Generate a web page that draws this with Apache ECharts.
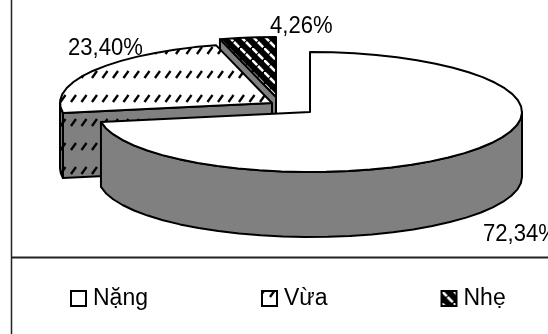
<!DOCTYPE html>
<html lang="vi">
<head>
    <meta charset="UTF-8">
    <title>pie 3d</title>
    <script src="https://cdn.jsdelivr.net/npm/echarts@6/dist/echarts.min.js"></script>
    <style>
        html, body { margin: 0; padding: 0; background: #fff; }
    </style>
</head>
<body>
<div id="main" style="width: 548px;height:334px;"></div>
<script type="text/javascript">
    // data
    var categories = ['Nặng', 'Vừa', 'Nhẹ'];
    var percents = [72.34, 23.40, 4.26];

    // ellipse of the fake 3d pie
    var RX = 212, RY = 60, DEPTH = 65;
    var centers = [[310, 112], [272, 103], [276, 97]];
    // left end and baseline of the value labels
    var labelPos = [[483, 241], [68, 55], [270, 33]];
    var GRAY = '#808080';

    function makeHatch(bg) {
        var c = document.createElement('canvas');
        c.width = 21; c.height = 24;
        var g = c.getContext('2d');
        g.fillStyle = bg;
        g.fillRect(0, 0, 21, 24);
        g.strokeStyle = '#000';
        g.lineWidth = 2.4;
        [0, 10.5, 21].forEach(function (x) {
            [2.5, 26.5].forEach(function (y) {
                g.beginPath();
                g.moveTo(x - 2.5, y + 3.5);
                g.lineTo(x + 2.5, y - 3.5);
                g.stroke();
            });
        });
        return { image: c, repeat: 'repeat' };
    }

    function makeStripes() {
        var c = document.createElement('canvas');
        c.width = 12; c.height = 12;
        var g = c.getContext('2d');
        g.fillStyle = '#000';
        g.fillRect(0, 0, 12, 12);
        g.strokeStyle = '#fff';
        g.lineWidth = 2.6;
        g.setLineDash([7.3, 1.2]);
        g.beginPath();
        g.moveTo(-6, -6);
        g.lineTo(18, 18);
        g.stroke();
        return { image: c, repeat: 'repeat' };
    }

    var fills = ['#fff', makeHatch('#fff'), makeStripes()];
    var wallFills = [GRAY, makeHatch(GRAY), GRAY];

    function point(c, deg, drop) {
        var a = deg * Math.PI / 180;
        return [c[0] + RX * Math.sin(a), c[1] - RY * Math.cos(a) + (drop || 0)];
    }

    // points along the rim, a bit coarse like the original
    function arc(c, from, to, drop) {
        var pts = [];
        var n = Math.max(1, Math.round(Math.abs(to - from) / 6));
        for (var i = 0; i <= n; i++) {
            pts.push(point(c, from + (to - from) * i / n, drop));
        }
        return pts;
    }

    function poly(points, fill) {
        return {
            type: 'polygon',
            shape: { points: points },
            style: { fill: fill, stroke: '#000', lineWidth: 2, lineJoin: 'round' }
        };
    }

    function renderSlice(index) {
        return function (params, api) {
            var total = 0, before = 0;
            percents.forEach(function (p, i) {
                total += p;
                if (i < index) before += p;
            });
            var start = before / total * 360;
            var end = start + api.value(0) / total * 360;
            var c = centers[index];
            var kids = [];

            // cut face on the start side, only when it looks at the viewer
            if (Math.sin(start * Math.PI / 180) < -0.01) {
                kids.push(poly([c, point(c, start), point(c, start, DEPTH), [c[0], c[1] + DEPTH]], wallFills[index]));
            }

            // outer wall, only the front half of the ellipse
            var wallFrom = Math.max(start, 90), wallTo = Math.min(end, 270);
            if (wallTo > wallFrom) {
                kids.push(poly(arc(c, wallFrom, wallTo, 0).concat(arc(c, wallTo, wallFrom, DEPTH)), wallFills[index]));
            }

            // top face
            kids.push(poly([c].concat(arc(c, start, end, 0)), fills[index]));

            // the original text is a little narrower than its height
            kids.push({
                type: 'text',
                x: labelPos[index][0],
                y: labelPos[index][1],
                scaleX: 0.92,
                style: {
                    x: 0,
                    y: 5,
                    text: api.value(0).toFixed(2).replace('.', ',') + '%',
                    fill: '#000',
                    font: '24px "Liberation Sans"',
                    verticalAlign: 'bottom'
                }
            });
            return { type: 'group', children: kids };
        };
    }

    // back slices first so the big one sits on top
    var series = [2, 1, 0].map(function (i) {
        return {
            name: categories[i],
            type: 'custom',
            coordinateSystem: 'none',
            silent: true,
            renderItem: renderSlice(i),
            data: [[percents[i]]]
        };
    });

    var myChart = echarts.init(document.getElementById('main'));

    var option = {
        animation: false,
        textStyle: { fontFamily: 'Liberation Sans' },
        legend: {
            left: 70,
            top: 287,
            padding: 0,
            itemWidth: 15,
            itemHeight: 15,
            itemGap: 113,
            selectedMode: false,
            icon: 'rect',
            textStyle: { fontSize: 23, color: '#000', fontFamily: 'Liberation Sans', padding: [0, 0, 0, 2] },
            data: categories.map(function (name, i) {
                return {
                    name: name,
                    itemStyle: { color: fills[i], borderColor: '#000', borderWidth: 2 }
                };
            })
        },
        graphic: [
            { type: 'line', shape: { x1: 11.5, y1: 0, x2: 11.5, y2: 334 }, style: { stroke: '#222', lineWidth: 1.5 } },
            { type: 'line', shape: { x1: 11, y1: 257.5, x2: 548, y2: 257.5 }, style: { stroke: '#222', lineWidth: 2 } }
        ],
        series: series
    };

    myChart.setOption(option);
</script>
</body>
</html>
